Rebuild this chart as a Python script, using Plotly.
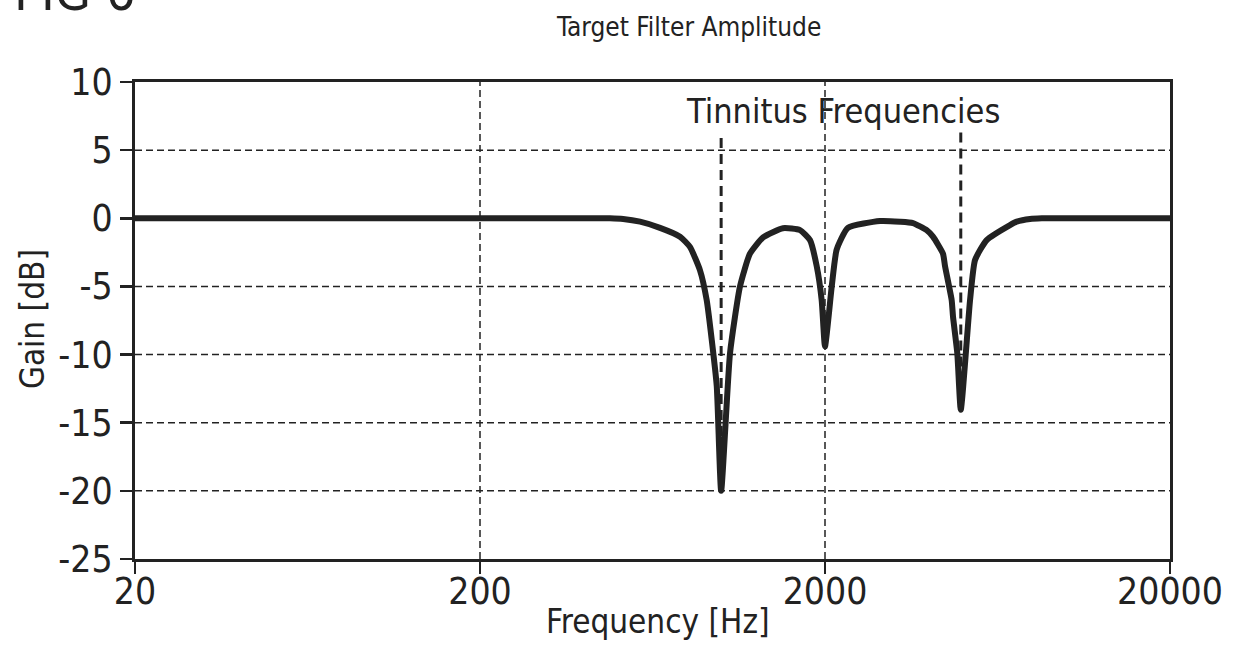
import math
import plotly.graph_objects as go

# ---- data ----
freq_hz = [20, 200, 400, 476, 520, 582, 665, 760, 812, 868, 908, 939, 971, 1000,
           1061, 1134, 1212, 1323, 1511, 1693, 1809, 1892, 1956, 2000,
           2092, 2162, 2330, 2887, 3300, 3598, 3942, 4111, 4396, 4455, 4658, 4699,
           4836, 4950, 5266, 5444, 5884, 6876, 7190, 7857, 8500, 10000, 20000]
gain_db = [0, 0, 0, 0, -0.05, -0.25, -0.7, -1.35, -2.1, -3.8, -6, -8.9, -12.3, -20,
           -9.9, -5, -2.6, -1.4, -0.73, -0.87, -1.6, -3.5, -6, -9.4,
           -5, -2.3, -0.7, -0.2, -0.25, -0.35, -0.87, -1.35, -2.6, -3.5, -6, -7.2,
           -9.9, -14.05, -6, -3.06, -1.6, -0.5, -0.25, -0.05, 0, 0, 0]

tinnitus_freqs = [1000, 4950]
tinnitus_top_db = [5.9, 6.3]
tinnitus_bottom_db = [-20, -14.05]
tinnitus_label_freq = 2250
tinnitus_label_db = 7.9

x_tickvals = [20, 200, 2000, 20000]
x_ticktext = ["20", "200", "2000", "20000"]
y_tickvals = [10, 5, 0, -5, -10, -15, -20, -25]
y_ticktext = ["10", "5", "0", "-5", "-10", "-15", "-20", "-25"]
x_grid = [200, 2000]
y_grid = [5, -5, -10, -15, -20]

FONT = "DejaVu Sans Condensed, Liberation Sans Narrow, Arial Narrow, sans-serif"
INK = "#222222"

fig = go.Figure()

# grid lines (dashed, thin)
for gx in x_grid:
    fig.add_trace(go.Scatter(x=[gx, gx], y=[y_tickvals[-1], y_tickvals[0]], mode="lines",
                             line=dict(color=INK, width=1.5, dash="7px,4px"),
                             showlegend=False, hoverinfo="skip"))
for gy in y_grid:
    fig.add_trace(go.Scatter(x=[x_tickvals[0], x_tickvals[-1]], y=[gy, gy], mode="lines",
                             line=dict(color=INK, width=1.5, dash="7px,4px"),
                             showlegend=False, hoverinfo="skip"))

# tinnitus frequency markers
for f, top, bot in zip(tinnitus_freqs, tinnitus_top_db, tinnitus_bottom_db):
    fig.add_trace(go.Scatter(x=[f, f], y=[top, bot], mode="lines",
                             line=dict(color=INK, width=3, dash="10px,6px"),
                             showlegend=False, hoverinfo="skip"))

# filter curve
fig.add_trace(go.Scatter(x=freq_hz, y=gain_db, mode="lines",
                         line=dict(color=INK, width=6, shape="spline", smoothing=0.5),
                         showlegend=False))

fig.add_annotation(x=math.log10(tinnitus_label_freq), y=tinnitus_label_db, xref="x", yref="y",
                   text="Tinnitus Frequencies",
                   showarrow=False, font=dict(family=FONT, size=34, color=INK),
                   xanchor="center", yanchor="middle")

# figure label (cut off at top edge like the reference)
fig.add_annotation(x=-0.119, y=1.122, xref="paper", yref="paper", text="FIG 6",
                   showarrow=False, font=dict(family=FONT, size=52, color=INK),
                   xanchor="left", yanchor="bottom")

# chart title
fig.add_annotation(x=0.535, y=1.115, xref="paper", yref="paper", text="Target Filter Amplitude",
                   showarrow=False, font=dict(family=FONT, size=26, color=INK),
                   xanchor="center", yanchor="middle")

# axis titles
fig.add_annotation(x=0.5053, y=-0.13, xref="paper", yref="paper", text="Frequency [Hz]",
                   showarrow=False, font=dict(family=FONT, size=33, color=INK),
                   xanchor="center", yanchor="middle")
fig.add_annotation(x=-0.0995, y=0.503, xref="paper", yref="paper", text="Gain [dB]",
                   textangle=-90,
                   showarrow=False, font=dict(family=FONT, size=33, color=INK),
                   xanchor="center", yanchor="middle")

fig.update_layout(
    width=1234, height=666,
    margin=dict(l=135, r=64, t=82, b=107),
    paper_bgcolor="white", plot_bgcolor="white",
    font=dict(family=FONT, color=INK),
    hovermode=False,
)
fig.update_xaxes(type="log", range=[math.log10(x_tickvals[0]), math.log10(x_tickvals[-1])],
                 tickvals=x_tickvals, ticktext=x_ticktext,
                 tickfont=dict(size=37, family=FONT, color=INK),
                 automargin=False, ticklabelstandoff=-14,
                 showgrid=False, zeroline=False,
                 showline=True, linecolor=INK, linewidth=3, mirror=True,
                 ticks="outside", ticklen=12, tickwidth=2.5, tickcolor=INK)
fig.update_yaxes(range=[y_tickvals[-1], y_tickvals[0]],
                 tickvals=y_tickvals, ticktext=y_ticktext,
                 tickfont=dict(size=37, family=FONT, color=INK),
                 automargin=False,
                 showgrid=False, zeroline=False,
                 showline=True, linecolor=INK, linewidth=3, mirror=True,
                 ticks="outside", ticklen=12, tickwidth=2.5, tickcolor=INK)

fig.write_html("out.html", config={"displayModeBar": False, "staticPlot": True},
               post_script="document.body.style.margin='0px';")
